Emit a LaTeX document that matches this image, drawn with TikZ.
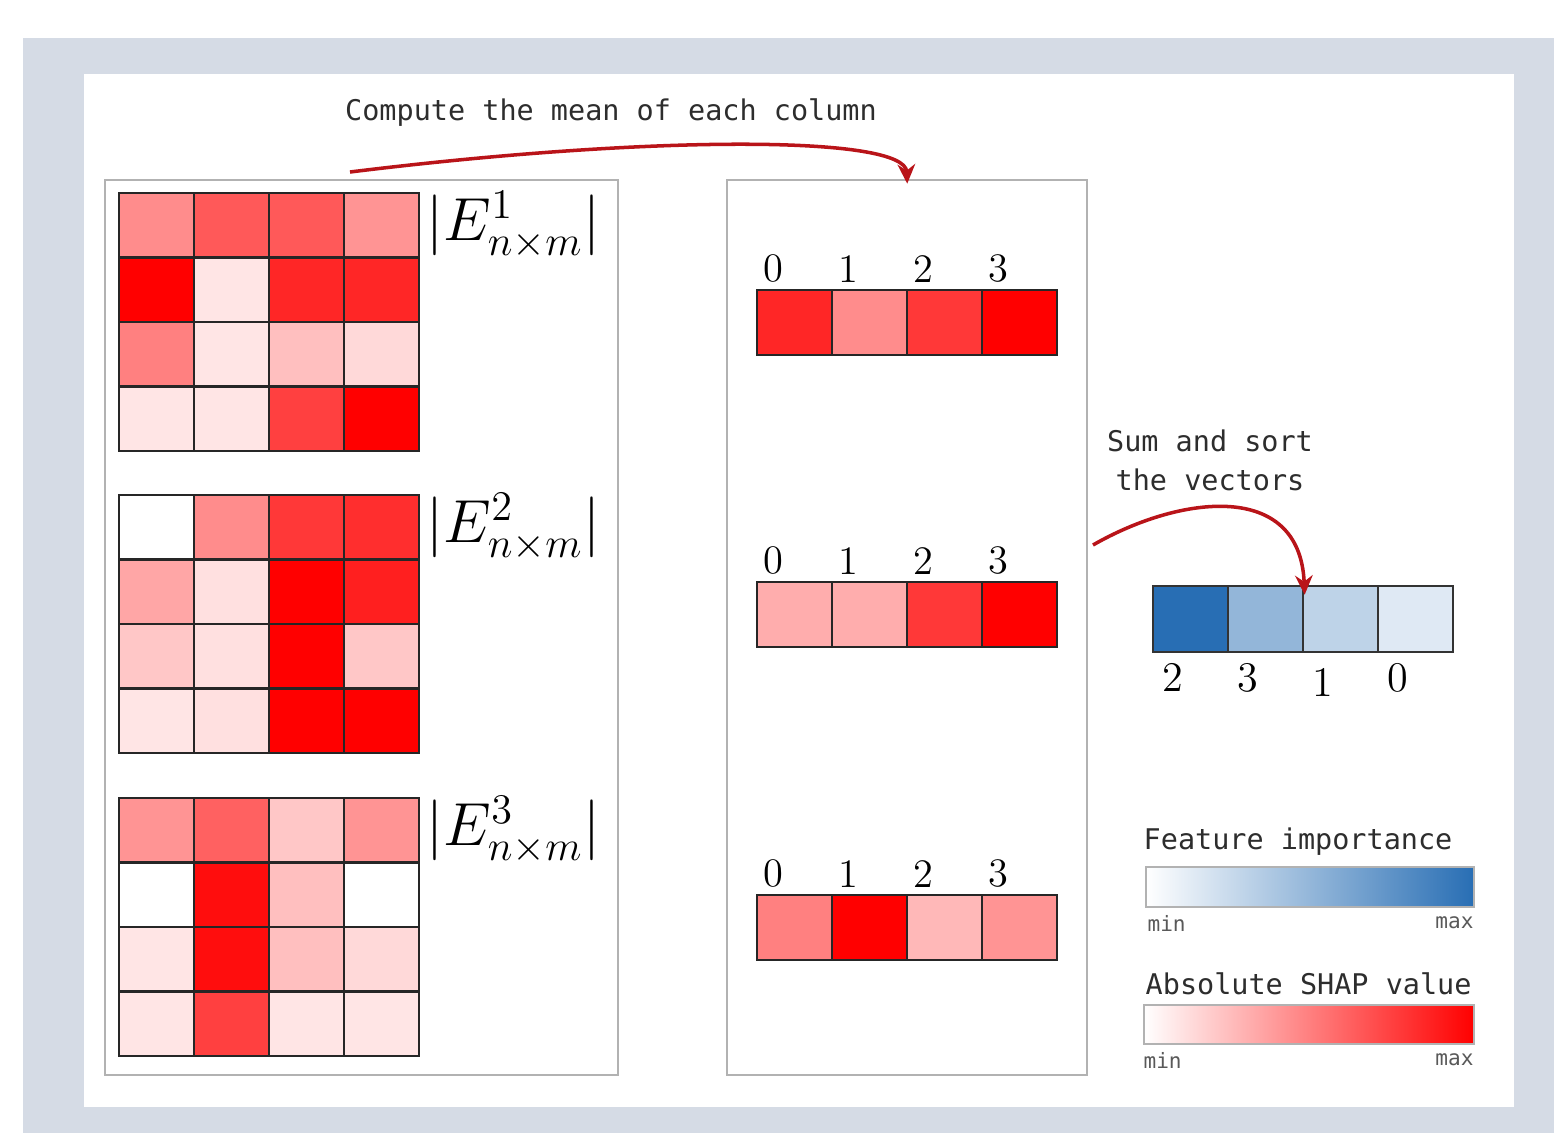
\documentclass[tikz,border=0pt]{standalone}
\usepackage{fontspec}
\newfontfamily\codefont{DejaVu Sans Mono}
\usepackage{tikz}
\usetikzlibrary{arrows.meta, positioning}
\definecolor{pagegray}{RGB}{213, 219, 229}
\definecolor{panelgray}{RGB}{178, 178, 178}
\definecolor{shapred}{RGB}{255, 0, 0}
\definecolor{shapblue}{RGB}{40, 110, 180}
\definecolor{arrowred}{RGB}{185, 20, 25}
\definecolor{textgray}{RGB}{45, 45, 45}
\tikzset{
  panel/.style      = {rectangle, draw=panelgray, line width=0.6pt, inner sep=0pt},
  cellbox/.style    = {rectangle, draw=black!85, line width=0.7pt, minimum width=0.75cm, minimum height=0.645cm, inner sep=0pt},
  vecbox/.style     = {cellbox, minimum height=0.65cm},
  bluebox/.style    = {cellbox, draw=black!80, minimum height=0.66cm},
  elabel/.style     = {inner sep=0pt, font=\fontsize{18.5}{20}\selectfont},
  idxlbl/.style     = {inner sep=0pt, font=\fontsize{11.5}{12}\selectfont},
  sortlbl/.style    = {inner sep=0pt, font=\fontsize{12}{13}\selectfont},
  codetxt/.style    = {inner sep=0pt, text=textgray, font=\codefont\fontsize{8.1}{11.1}\selectfont},
  minmax/.style     = {inner sep=0pt, text=black!65, font=\codefont\fontsize{6}{7}\selectfont},
  legendbar/.style  = {rectangle, draw=panelgray, line width=0.6pt, inner sep=0pt},
  flowred/.style    = {-{Stealth[length=5.5pt, width=5pt]}, line width=1pt, arrowred},
}

\begin{document}
\begin{tikzpicture}[x=0.01cm, y=-0.01cm]
  \useasboundingbox (0,0) rectangle (1554,1133);

  % frame
  \fill[pagegray] (23,38) rectangle (1554,1133);
  \fill[white] (84,74) rectangle (1514,1107);

  % panels
  \node[panel, minimum width=5.13cm, minimum height=8.95cm] (leftpanel) at (361.5,627.5) {};
  \node[panel, minimum width=3.60cm, minimum height=8.95cm] (midpanel) at (907,627.5) {};

  % SHAP matrices
  \foreach \row [count=\i from 0] in {{45,65,65,42},{100,10,85,85},{50,10,25,15},{10,10,75,100}}
    \foreach \v [count=\j from 0] in \row
      \node[cellbox, fill=shapred!\v!white] (mA-\i-\j) at (156.5+75*\j, 225.25+64.5*\i) {};
  \foreach \row [count=\i from 0] in {{0,45,78,82},{35,12,100,88},{22,12,100,22},{10,12,100,100}}
    \foreach \v [count=\j from 0] in \row
      \node[cellbox, fill=shapred!\v!white] (mB-\i-\j) at (156.5+75*\j, 527.25+64.5*\i) {};
  \foreach \row [count=\i from 0] in {{42,62,22,42},{0,95,25,0},{10,95,25,15},{10,75,10,10}}
    \foreach \v [count=\j from 0] in \row
      \node[cellbox, fill=shapred!\v!white] (mC-\i-\j) at (156.5+75*\j, 830.25+64.5*\i) {};

  \node[elabel, right=0.06cm of mA-0-3] (labA) {$|E^{1}_{n\times m}|$};
  \node[elabel, right=0.06cm of mB-0-3] (labB) {$|E^{2}_{n\times m}|$};
  \node[elabel, right=0.06cm of mC-0-3] (labC) {$|E^{3}_{n\times m}|$};

  % column means
  \foreach \v [count=\j from 0] in {85,45,78,100} {
    \node[vecbox, fill=shapred!\v!white] (vA-\j) at (794.5+75*\j, 322.5) {};
    \node[idxlbl, above right=0.06cm and 0.07cm of vA-\j.north west] (vA-\j-i) {\j};
  }
  \foreach \v [count=\j from 0] in {32,32,78,100} {
    \node[vecbox, fill=shapred!\v!white] (vB-\j) at (794.5+75*\j, 614.5) {};
    \node[idxlbl, above right=0.06cm and 0.07cm of vB-\j.north west] (vB-\j-i) {\j};
  }
  \foreach \v [count=\j from 0] in {50,100,28,42} {
    \node[vecbox, fill=shapred!\v!white] (vC-\j) at (794.5+75*\j, 927.5) {};
    \node[idxlbl, above right=0.06cm and 0.07cm of vC-\j.north west] (vC-\j-i) {\j};
  }

  % sorted importance
  \foreach \v/\f/\d [count=\j from 0] in {100/2/0pt, 50/3/0pt, 30/1/1.5pt, 15/0/0pt} {
    \node[bluebox, fill=shapblue!\v!white] (bv-\j) at (1190.5+75*\j, 619) {};
    \node[sortlbl, below right=0.09cm and 0.10cm of bv-\j.south west, yshift=-\d] (bv-\j-i) {\f};
  }

  % arrows and captions
  \node[codetxt] (meantitle) at (611,113) {Compute the mean of each column};
  \coordinate (meanfrom) at (350,172);
  \draw[flowred, shorten >=-0.05cm] (meanfrom) .. controls (650,135) and (905,135) .. (midpanel.north);

  \node[codetxt, align=center] (sumtitle) at (1210,460) {Sum and sort\\the vectors};
  \coordinate (sumfrom) at (1093,545);
  \draw[flowred, shorten >=-0.1cm] (sumfrom) .. controls (1180,495) and (1300,480) .. (bv-1.north east);

  % legends
  \node[codetxt, anchor=west] (fititle) at (1143,842) {Feature importance};
  \node[legendbar, left color=white, right color=shapblue, minimum width=3.28cm, minimum height=0.40cm] (fibar) at (1310,887) {};
  \node[minmax, below right=0.07cm and 0.02cm of fibar.south west] (fimin) {min};
  \node[minmax, below left=0.08cm and 0.01cm of fibar.south east] (fimax) {max};

  \node[codetxt, anchor=west] (shaptitle) at (1145,984) {Absolute SHAP value};
  \node[legendbar, left color=white, right color=shapred, minimum width=3.30cm, minimum height=0.39cm] (shapbar) at (1309,1024.5) {};
  \node[minmax, below right=0.07cm and 0cm of shapbar.south west] (shapmin) {min};
  \node[minmax, below left=0.08cm and 0.01cm of shapbar.south east] (shapmax) {max};

\end{tikzpicture}
\end{document}
